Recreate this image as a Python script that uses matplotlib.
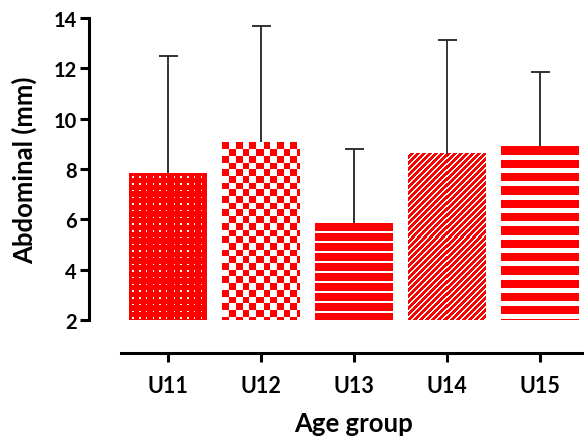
import numpy as np
import matplotlib
matplotlib.use("Agg")
import matplotlib.pyplot as plt

groups = ["U11", "U12", "U13", "U14", "U15"]
means = [7.84, 9.07, 5.85, 8.60, 8.91]
sds = [4.65, 4.61, 2.95, 4.52, 2.94]
patterns = ["dots", "checker", "stripes", "diag", "wide_stripes"]

plt.rcParams['font.family'] = ['Lato', 'DejaVu Sans']
plt.rcParams['font.weight'] = 'bold'

W, H = 584, 439
fig = plt.figure(figsize=(W / 100, H / 100), dpi=100)
ax = fig.add_axes([89 / W, 1 - 321 / H, (W - 89) / W, (321 - 19) / H])

base = 2
x = np.arange(len(groups))
ax.set_xlim(-0.85, 4.478)
ax.set_ylim(base, 14)

bw = 0.83
heights = np.array(means) - base
bars = ax.bar(x, heights, bottom=base, width=bw, color='red', linewidth=0, zorder=2)


def make_pattern(kind, h, w):
    r = np.arange(h)[:, None]
    c = np.arange(w)[None, :]
    if kind == "dots":
        white = (np.mod(r - 3, 6.7) < 1.4) & (np.mod(c - 3, 6.7) < 1.4)
    elif kind == "checker":
        white = ((np.floor(r / 6.7) + np.floor(c / 6.7)) % 2) == 1
    elif kind == "stripes":
        white = np.mod(r - 8, 10.0) < 2 + 0 * c
    elif kind == "diag":
        white = np.mod(r + c, 6.0) < 2
    else:
        white = np.mod(r - 8.3, 13.3) < 5 + 0 * c
    img = np.ones((h, w, 3))
    img[..., 1] = 0
    img[..., 2] = 0
    img[white] = 1
    return img


fig.canvas.draw()
for bar, kind in zip(bars, patterns):
    x0, y0 = bar.get_x(), bar.get_y()
    x1, y1 = x0 + bar.get_width(), y0 + bar.get_height()
    p0 = ax.transData.transform((x0, y0))
    p1 = ax.transData.transform((x1, y1))
    wpx = int(round(p1[0] - p0[0]))
    hpx = int(round(p1[1] - p0[1]))
    ax.imshow(make_pattern(kind, hpx, wpx), extent=(x0, x1, y0, y1), origin='upper',
              aspect='auto', interpolation='nearest', zorder=3)

ax.set_xlim(-0.85, 4.478)
ax.set_ylim(base, 14)

eb = ax.errorbar(x, means, yerr=[np.zeros(len(sds)), sds], fmt='none', ecolor='#222222',
                 elinewidth=1.3, capsize=9.5 * 0.72, capthick=1.3, zorder=4)
eb[1][0].set_visible(False)

ax.spines['top'].set_visible(False)
ax.spines['right'].set_visible(False)
ax.spines['left'].set_linewidth(2.2)
ax.spines['bottom'].set_linewidth(2.2)
# outward offset is in points: 33 px at 100 dpi
ax.spines['bottom'].set_position(('outward', 33 * 0.72))
ax.spines['bottom'].set_bounds(-0.505, 4.478)

ax.set_yticks([2, 4, 6, 8, 10, 12, 14])
ax.set_xticks(x)
ax.set_xticklabels(groups)
ax.tick_params(axis='y', length=6.5, width=2.2, labelsize=14.5, pad=2.5)
ax.tick_params(axis='x', length=6.5, width=2.2, labelsize=15.5, pad=9)
for lab in ax.get_xticklabels() + ax.get_yticklabels():
    lab.set_fontweight('bold')

ax.set_ylabel("Abdominal (mm)", fontsize=18.5, fontweight='bold')
ax.set_xlabel("Age group", fontsize=18.5, fontweight='bold')
ax.yaxis.set_label_coords(-0.105, 0.5)
ax.xaxis.set_label_coords(0.535, -0.301)

fig.savefig("out.png", dpi=100)
